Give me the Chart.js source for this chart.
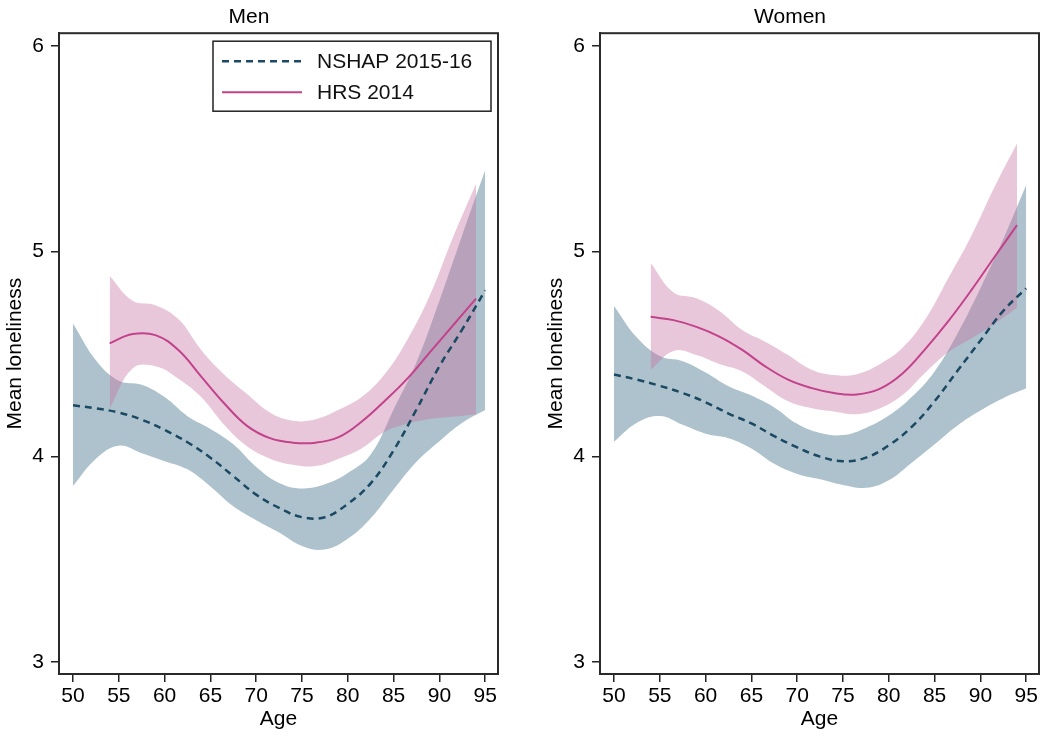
<!DOCTYPE html>
<html>
<head>
<meta charset="utf-8">
<script src="https://cdn.jsdelivr.net/npm/chart.js@4"></script>
<style>
  body{margin:0;background:#fff;width:1050px;height:741px;overflow:hidden;position:relative}
  canvas{position:absolute;top:0}
  #men{left:0}
  #women{left:541px}
</style>
</head>
<body>
<canvas id="men" width="525" height="741" style="width:525px;height:741px"></canvas>
<canvas id="women" width="509" height="741" style="width:509px;height:741px"></canvas>
<script>
const ageNshap = [50,52.5,55,57.5,60,62.5,65,67.5,70,72.5,75,77.5,80,82.5,85,87.5,90,92.5,95];
const ageHrs   = [54,56.5,59,61.5,64,66.5,69,71.5,74,76.5,79,81.5,84,86.5,89,91.5,94];
const xTicks = [50,55,60,65,70,75,80,85,90,95];
const yTicks = [3,4,5,6];
const labels = ['NSHAP 2015-16','HRS 2014'];

// Men
const menNshapMean = [4.25,4.235,4.215,4.18,4.13,4.07,3.995,3.905,3.815,3.75,3.705,3.705,3.77,3.87,4.03,4.23,4.44,4.62,4.81];
const menNshapLo   = [3.857,3.99,4.053,4.017,3.978,3.938,3.855,3.758,3.69,3.63,3.565,3.548,3.60,3.70,3.84,3.975,4.075,4.165,4.227];
const menNshapHi   = [4.649,4.47,4.37,4.35,4.29,4.197,4.135,4.06,3.95,3.872,3.845,3.865,3.92,4.01,4.23,4.46,4.76,5.08,5.396];
const menHrsMean   = [4.552,4.597,4.592,4.519,4.39,4.26,4.15,4.09,4.068,4.068,4.095,4.17,4.27,4.38,4.51,4.64,4.77];
const menHrsLo     = [4.235,4.43,4.44,4.38,4.29,4.155,4.05,3.99,3.96,3.954,3.99,4.04,4.12,4.16,4.183,4.194,4.207];
const menHrsHi     = [4.88,4.76,4.738,4.67,4.52,4.40,4.305,4.215,4.175,4.182,4.228,4.29,4.40,4.57,4.79,5.07,5.33];

// Women
const womenNshapMean = [4.40,4.375,4.345,4.31,4.265,4.21,4.162,4.10,4.045,4.00,3.978,3.995,4.055,4.145,4.27,4.418,4.565,4.71,4.82];
const womenNshapLo   = [4.073,4.165,4.198,4.155,4.112,4.09,4.04,3.965,3.916,3.89,3.862,3.848,3.885,3.97,4.06,4.152,4.225,4.285,4.333];
const womenNshapHi   = [4.734,4.58,4.49,4.465,4.41,4.343,4.298,4.24,4.16,4.115,4.105,4.14,4.20,4.29,4.415,4.60,4.82,5.06,5.323];
const womenHrsMean   = [4.681,4.665,4.632,4.585,4.52,4.44,4.375,4.335,4.31,4.303,4.33,4.405,4.525,4.66,4.81,4.97,5.128];
const womenHrsLo     = [4.422,4.515,4.495,4.451,4.415,4.342,4.27,4.237,4.22,4.207,4.235,4.30,4.41,4.508,4.575,4.645,4.725];
const womenHrsHi     = [4.944,4.80,4.772,4.71,4.617,4.56,4.495,4.425,4.398,4.402,4.45,4.53,4.67,4.87,5.075,5.31,5.526];

const NAVY = '#1b4862', MAGENTA = '#c2428b';
const BLUE_FILL = 'rgba(50,102,127,0.40)', PINK_FILL = 'rgba(200,115,162,0.40)';
const FONT = '"Liberation Sans", Arial, Helvetica, sans-serif';

function pts(ages, vals){ return ages.map((a,i)=>({x:a,y:vals[i]})); }

// box round the plot area + legend inside it
const framePlugin = {
  id:'frameLegend',
  afterDatasetsDraw(chart, args, opts){
    const {ctx, chartArea:a} = chart;
    ctx.save();
    ctx.strokeStyle='#2a2a2a'; ctx.lineWidth=2;
    ctx.strokeRect(a.left, a.top, a.right-a.left, a.bottom-a.top);
    if(opts.show){
      const w=278, h=70, x0=a.right-7-w, y0=a.top+8;
      ctx.fillStyle='#fff'; ctx.fillRect(x0,y0,w,h);
      ctx.lineWidth=1.5; ctx.strokeStyle='#222'; ctx.strokeRect(x0,y0,w,h);
      const items = chart.data.datasets.filter(d=>labels.includes(d.label));
      items.forEach((d,i)=>{
        const y=y0+20+i*31;
        ctx.beginPath();
        ctx.setLineDash(d.borderDash||[]);
        ctx.strokeStyle=d.borderColor; ctx.lineWidth=d.borderWidth;
        ctx.moveTo(x0+9,y); ctx.lineTo(x0+89,y); ctx.stroke();
        ctx.setLineDash([]);
        ctx.fillStyle='#111'; ctx.font='21px '+FONT; ctx.textBaseline='middle';
        ctx.fillText(d.label, x0+104, y+1);
      });
    }
    ctx.restore();
  }
};

function makePanel(id, title, s, showLegend, padRight){
  const band = {borderWidth:0, pointRadius:0, tension:0.4};
  return new Chart(document.getElementById(id), {
    type:'line',
    data:{ datasets:[
      {...band, label:'NSHAP lower', data:pts(ageNshap,s.nLo), fill:false, order:4},
      {...band, label:'NSHAP upper', data:pts(ageNshap,s.nHi), fill:'-1', backgroundColor:BLUE_FILL, order:4},
      {...band, label:'HRS lower', data:pts(ageHrs,s.hLo), fill:false, order:3},
      {...band, label:'HRS upper', data:pts(ageHrs,s.hHi), fill:'-1', backgroundColor:PINK_FILL, order:3},
      {label:labels[0], data:pts(ageNshap,s.nMean), borderColor:NAVY, borderWidth:2.5, borderDash:[7,5],
        pointRadius:0, fill:false, tension:0.4, order:2},
      {label:labels[1], data:pts(ageHrs,s.hMean), borderColor:MAGENTA, borderWidth:2,
        pointRadius:0, fill:false, tension:0.4, order:1}
    ]},
    options:{
      responsive:false, animation:false,
      layout:{padding:{left:0,right:padRight,top:0,bottom:0}},
      plugins:{
        legend:{display:false}, tooltip:{enabled:false},
        title:{display:true, text:title, color:'#000', font:{family:FONT,size:21,weight:'normal'}, padding:{top:5,bottom:3}},
        frameLegend:{show:showLegend}
      },
      scales:{
        x:{type:'linear', min:48.47, max:96.40,
          afterBuildTicks:ax=>{ax.ticks=xTicks.map(v=>({value:v}));},
          afterFit:ax=>{ax.height=67;},
          grid:{drawOnChartArea:false, drawTicks:true, tickLength:8, color:'#222', lineWidth:1.5},
          border:{display:true, color:'#2a2a2a', width:2},
          ticks:{color:'#000', padding:2, maxRotation:0, font:{family:FONT,size:21}},
          title:{display:true, text:'Age', color:'#000', font:{family:FONT,size:21}, padding:{top:0,bottom:9}}
        },
        y:{min:2.941, max:6.063,
          afterBuildTicks:ax=>{ax.ticks=yTicks.map(v=>({value:v}));},
          afterFit:ax=>{ax.width=59;},
          grid:{drawOnChartArea:false, drawTicks:true, tickLength:8, color:'#222', lineWidth:1.5},
          border:{display:true, color:'#2a2a2a', width:2},
          ticks:{color:'#000', padding:7, font:{family:FONT,size:21}},
          title:{display:true, text:'Mean loneliness', color:'#000', font:{family:FONT,size:21}, padding:{top:3,bottom:0}}
        }
      }
    },
    plugins:[framePlugin]
  });
}

makePanel('men','Men',{nMean:menNshapMean,nLo:menNshapLo,nHi:menNshapHi,hMean:menHrsMean,hLo:menHrsLo,hHi:menHrsHi},true,27);
makePanel('women','Women',{nMean:womenNshapMean,nLo:womenNshapLo,nHi:womenNshapHi,hMean:womenHrsMean,hLo:womenHrsLo,hHi:womenHrsHi},false,11);
</script>
</body>
</html>
